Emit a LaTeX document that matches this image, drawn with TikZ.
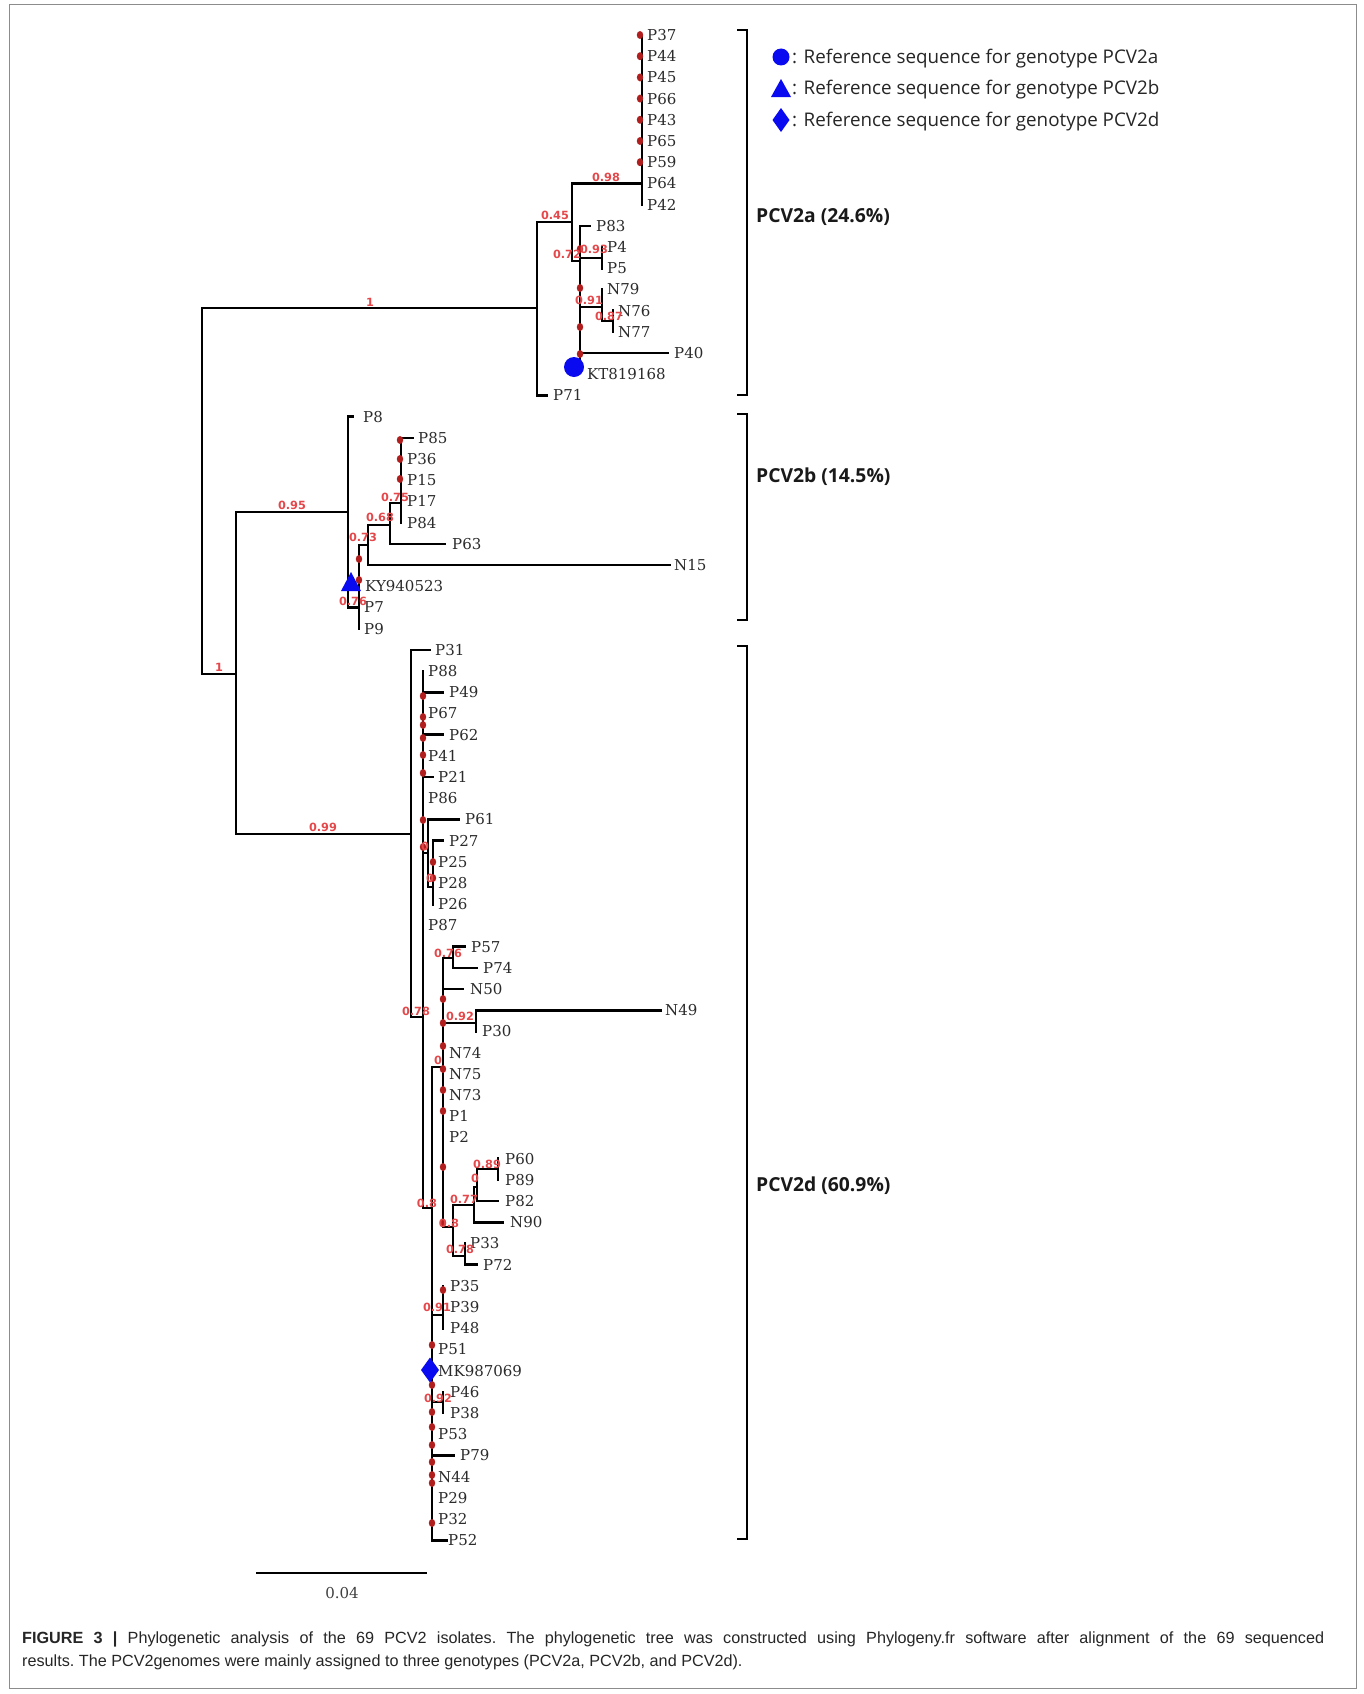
\documentclass[tikz,border=0pt]{standalone}
\usepackage{fontspec}
\setmainfont{DejaVu Serif}
\newfontfamily\supfont{DejaVu Sans}
\newfontfamily\legfont{Open Sans}
\newfontfamily\cladefont{Open Sans}
\newfontfamily\capfont{Liberation Sans}
\usetikzlibrary{shapes.geometric}
\definecolor{leafc}{HTML}{2B2B2B}
\definecolor{supc}{HTML}{E5484B}
\definecolor{dotc}{HTML}{B01E1E}
\definecolor{refb}{HTML}{0A0AF0}
\newcommand\mydot[2]{\fill[dotc] (#1,#2) ellipse [x radius=3.2pt, y radius=4pt];}
\begin{document}
\begin{tikzpicture}[x=1pt,y=-1pt,
  br/.style={line width=2.6pt, line cap=rect, line join=miter, black},
  brk/.style={line width=2.4pt, line join=miter, black},
  leaf/.style={anchor=west, inner sep=0pt, font=\fontsize{15}{17}\selectfont, text=leafc, text height=10.8pt, text depth=0pt},
  sup/.style={inner sep=0pt, font=\supfont\bfseries\fontsize{11.3}{12}\selectfont, text=supc, text height=8.2pt, text depth=0pt},
  clade/.style={anchor=west, inner sep=0pt, font=\cladefont\bfseries\fontsize{19.3}{21}\selectfont, text=black!90, text height=13.5pt, text depth=0pt},
  leg/.style={anchor=west, inner sep=0pt, font=\legfont\fontsize{18.8}{20}\selectfont, text=black!85, text height=13pt, text depth=0pt},
  capt/.style={anchor=west, inner sep=0pt, font=\capfont\fontsize{16.2}{18}\selectfont\frenchspacing, text=black!85, text height=11.4pt, text depth=0pt}]
\useasboundingbox (0,0) rectangle (1363,1694);
\fill[white] (0,0) rectangle (1363,1694);
\draw[black!45, line width=1pt] (9,5) rectangle (1356,1688);

% ---------- leaf labels ----------
\foreach \n/\x/\i in {P37/647/0, P44/647/1, P45/647/2, P66/647/3, P43/647/4, P65/647/5, P59/647/6, P64/647/7, P42/647/8,
  P83/596/9, P4/607/10, P5/607/11, N79/607/12, N76/618/13, N77/618/14, P40/674/15, KT819168/587/16, P71/553/17,
  P8/363/18, P85/418/19, P36/407/20, P15/407/21, P17/407/22, P84/407/23, P63/452/24, N15/674/25, KY940523/365/26, P7/364/27, P9/364/28,
  P31/435/29, P88/428/30, P49/449/31, P67/428/32, P62/449/33, P41/428/34, P21/438/35, P86/428/36, P61/465/37, P27/449/38,
  P25/438/39, P28/438/40, P26/438/41, P87/428/42, P57/471/43, P74/483/44, N50/470/45, N49/665/46, P30/482/47,
  N74/449/48, N75/449/49, N73/449/50, P1/449/51, P2/449/52, P60/505/53, P89/505/54, P82/505/55, N90/510/56,
  P33/470/57, P72/483/58, P35/450/59, P39/450/60, P48/450/61, P51/438/62, MK987069/438/63, P46/450/64, P38/450/65,
  P53/438/66, P79/460/67, N44/438/68, P29/438/69, P32/438/70, P52/448/71}
  {\node[leaf] (\n) at (\x,{35+21.2*\i}) {\n};}

% ---------- backbone ----------
\draw[br] (202,308)--(537,308);
\draw[br] (202,308)--(202,674)--(236,674);
\draw[br] (236,512)--(236,834);
\draw[br] (236,512)--(348,512);
\draw[br] (236,834)--(411,834);

% ---------- PCV2a ----------
\draw[br] (537,222)--(537,395.4)--(547,395.4);
\draw[br] (537,222)--(572,222);
\draw[br] (572,183.4)--(572,261)--(580,261);
\draw[br] (572,183.4)--(642,183.4);
\draw[br] (642,35)--(642,204.6);
\draw[br] (580,225.8)--(580,360);
\draw[br] (580,225.8)--(590,225.8);
\draw[br] (580,258)--(602,258);
\draw[br] (602,247)--(602,268.2);
\draw[br] (580,307)--(602,307);
\draw[br] (602,289.4)--(602,321)--(613,321);
\draw[br] (613,310.6)--(613,331.8);
\draw[br] (580,353)--(668,353);

% ---------- PCV2b ----------
\draw[br] (348,416.6)--(353,416.6);
\draw[br] (348,416.6)--(348,607.4)--(359,607.4);
\draw[br] (359,545)--(359,628.6);
\draw[br] (359,545)--(368,545);
\draw[br] (368,525)--(368,565)--(670,565);
\draw[br] (368,525)--(390,525);
\draw[br] (390,503)--(390,543.8)--(445,543.8);
\draw[br] (390,503)--(401,503);
\draw[br] (401,437.8)--(401,522.6);
\draw[br] (401,437.8)--(413,437.8);

% ---------- PCV2d ----------
\draw[br] (411,649.8)--(430,649.8);
\draw[br] (411,649.8)--(411,1017)--(423,1017);
\draw[br] (423,671)--(423,1208)--(432,1208);
\draw[br] (423,692.2)--(443,692.2);
\draw[br] (423,734.6)--(443,734.6);
\draw[br] (423,777)--(433,777);
\draw[br] (423,853)--(428,853);
\draw[br] (428,819.4)--(428,887)--(433,887);
\draw[br] (428,819.4)--(459,819.4);
\draw[br] (433,840.6)--(433,904.2);
\draw[br] (433,840.6)--(443,840.6);
\draw[br] (432,1067)--(432,1540.2)--(447,1540.2);
\draw[br] (432,1067)--(443,1067);
\draw[br] (443,958)--(443,1227)--(453,1227);
\draw[br] (443,958)--(453,958);
\draw[br] (453,946.6)--(453,967.8)--(477,967.8);
\draw[br] (453,946.6)--(465,946.6);
\draw[br] (443,989)--(463,989);
\draw[br] (443,1023)--(476,1023);
\draw[br] (476,1010.2)--(476,1031.4);
\draw[br] (476,1010.2)--(661,1010.2);
\draw[br] (453,1205)--(453,1256)--(465,1256);
\draw[br] (453,1205)--(474,1205);
\draw[br] (474,1187)--(474,1222.2)--(503,1222.2);
\draw[br] (474,1187)--(477,1187);
\draw[br] (477,1169)--(477,1201)--(498,1201);
\draw[br] (477,1169)--(498,1169);
\draw[br] (498,1158.6)--(498,1179.8);
\draw[br] (465,1243.4)--(465,1264.6)--(477,1264.6);
\draw[br] (432,1315)--(443,1315);
\draw[br] (443,1285.8)--(443,1328.2);
\draw[br] (432,1402)--(443,1402);
\draw[br] (443,1391.8)--(443,1413);
\draw[br] (432,1455.4)--(454,1455.4);

% ---------- red dots ----------
\foreach \y in {35,56.2,77.4,98.6,119.8,141,162.2} {\mydot{640}{\y}}
\foreach \y in {249,288,327,354} {\mydot{580}{\y}}
\foreach \y in {440,459,479} {\mydot{400}{\y}}
\foreach \y in {559,580} {\mydot{359}{\y}}
\foreach \y in {696,717,725,738,755,773,820,847} {\mydot{423}{\y}}
\foreach \y in {862,878} {\mydot{433}{\y}}
\foreach \y in {999,1023,1046,1069,1090,1111,1167,1223,1290} {\mydot{443}{\y}}
\foreach \y in {1345,1385,1412,1427,1445,1462,1475,1483,1523} {\mydot{432}{\y}}

% ---------- support values ----------
\node[sup] (s1) at (370,302) {1};
\node[sup] (s2) at (606,177) {0.98};
\node[sup] (s3) at (555,215) {0.45};
\node[sup] (s4) at (567,254) {0.72};
\node[sup] (s5) at (594,249) {0.93};
\node[sup] (s6) at (589,300) {0.91};
\node[sup] (s7) at (609,316) {0.87};
\node[sup] (s8) at (292,505) {0.95};
\node[sup] (s9) at (219,667) {1};
\node[sup] (s10) at (323,827) {0.99};
\node[sup] (s11) at (395,497) {0.75};
\node[sup] (s12) at (380,517) {0.68};
\node[sup] (s13) at (363,537) {0.73};
\node[sup] (s14) at (353,601) {0.76};
\node[sup] (s15) at (416,1011) {0.78};
\node[sup] (s16) at (425,846) {0};
\node[sup] (s17) at (430,878) {0};
\node[sup] (s18) at (448,953) {0.76};
\node[sup] (s19) at (460,1016) {0.92};
\node[sup] (s20) at (438,1060) {0};
\node[sup] (s21) at (487,1164) {0.89};
\node[sup] (s22) at (475,1178) {0};
\node[sup] (s23) at (464,1199) {0.77};
\node[sup] (s24) at (427,1203) {0.8};
\node[sup] (s25) at (449,1223) {0.8};
\node[sup] (s26) at (460,1249) {0.78};
\node[sup] (s27) at (437,1307) {0.91};
\node[sup] (s28) at (438,1398) {0.92};

% ---------- reference markers ----------
\fill[refb] (574,367) circle [radius=10pt];
\fill[refb] (351,572)--(361,591)--(341,591)--cycle;
\fill[refb] (430,1357.5)--(439,1370)--(430,1382.5)--(421,1370)--cycle;

% ---------- brackets ----------
\draw[brk] (737,30)--(747,30)--(747,395)--(737,395);
\draw[brk] (737,414)--(747,414)--(747,620)--(737,620);
\draw[brk] (737,646)--(747,646)--(747,1539)--(737,1539);
\node[clade] (ca) at (756,216) {PCV2a (24.6\%)};
\node[clade] (cb) at (756,476) {PCV2b (14.5\%)};
\node[clade] (cd) at (756,1185) {PCV2d (60.9\%)};

% ---------- legend ----------
\fill[refb] (781,57) circle [radius=8.5pt];
\fill[refb] (781,79)--(791,97)--(771,97)--cycle;
\fill[refb] (781,108)--(789.5,120)--(781,132)--(772.5,120)--cycle;
\node[leg] (l1) at (792,57) {: Reference sequence for genotype PCV2a};
\node[leg] (l2) at (792,88) {: Reference sequence for genotype PCV2b};
\node[leg] (l3) at (792,120) {: Reference sequence for genotype PCV2d};

% ---------- scale bar ----------
\coordinate (sbl) at (256,1573);
\coordinate (sbr) at (427,1573);
\draw[line width=2.6pt] (sbl)--(sbr);
\node[inner sep=0pt, font=\fontsize{15}{17}\selectfont, text=black!75] (sbt) at (342,1593) {0.04};

% ---------- caption ----------
\node[capt] (c1) at (22,1638) {\hbox to 1302pt{\textbf{FIGURE 3 |} Phylogenetic analysis of the 69 PCV2 isolates. The phylogenetic tree was constructed using Phylogeny.fr software after alignment of the 69 sequenced}};
\node[capt] (c2) at (22,1661) {results. The PCV2genomes were mainly assigned to three genotypes (PCV2a, PCV2b, and PCV2d).};
\end{tikzpicture}
\end{document}
